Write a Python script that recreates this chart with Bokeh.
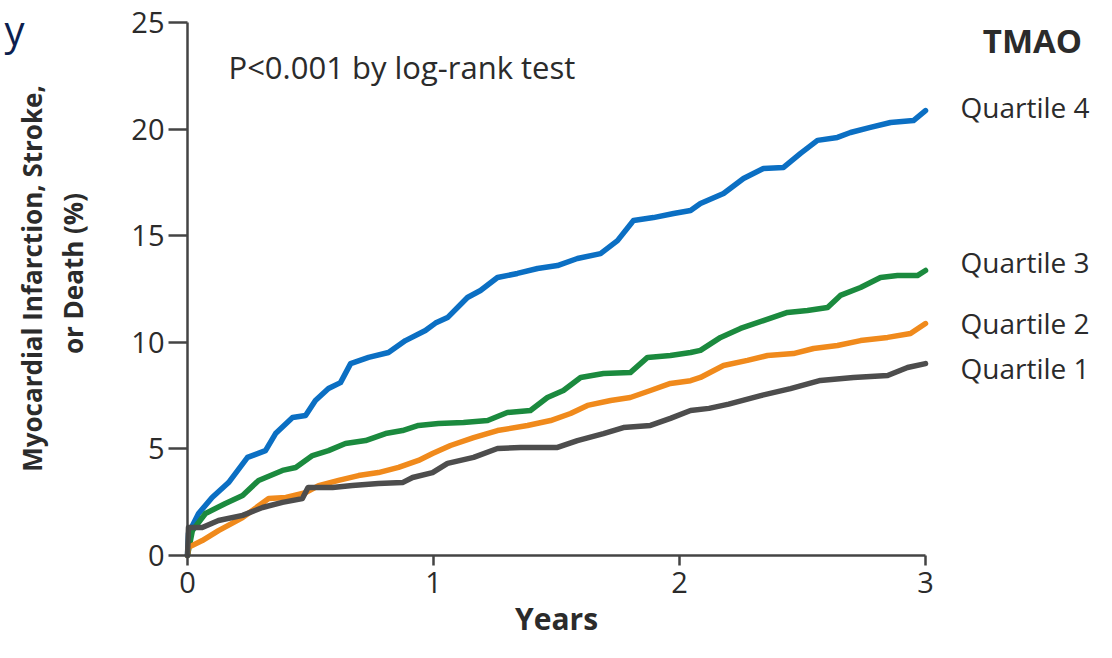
import math
from bokeh.plotting import figure
from bokeh.models import Range1d, Label, FixedTicker
from bokeh.embed import file_html
from bokeh.resources import INLINE

# ---- data ----
q4_x = [0, 0.004, 0.045, 0.10, 0.167, 0.244, 0.317, 0.358, 0.427, 0.48,
        0.52, 0.573, 0.622, 0.663, 0.736, 0.817, 0.886, 0.967, 1.008, 1.057,
        1.138, 1.191, 1.26, 1.341, 1.423, 1.504, 1.585, 1.679, 1.748, 1.813,
        1.894, 1.976, 2.045, 2.085, 2.179, 2.26, 2.341, 2.423, 2.492, 2.561,
        2.642, 2.695, 2.776, 2.858, 2.951, 3.0]
q4_y = [0, 1.03, 1.97, 2.72, 3.42, 4.6, 4.92, 5.72, 6.47, 6.57,
        7.27, 7.83, 8.11, 9.0, 9.29, 9.52, 10.08, 10.55, 10.9, 11.16,
        12.1, 12.43, 13.04, 13.23, 13.46, 13.6, 13.93, 14.16, 14.77, 15.71,
        15.85, 16.04, 16.18, 16.51, 16.98, 17.68, 18.15, 18.2, 18.86, 19.47,
        19.61, 19.84, 20.08, 20.31, 20.4, 20.87]

q3_x = [0, 0.02, 0.073, 0.154, 0.224, 0.289, 0.386, 0.44, 0.508, 0.573,
        0.642, 0.724, 0.805, 0.874, 0.939, 1.02, 1.122, 1.22, 1.30, 1.394,
        1.463, 1.528, 1.598, 1.691, 1.80, 1.87, 1.963, 2.045, 2.085, 2.167,
        2.248, 2.341, 2.439, 2.52, 2.602, 2.654, 2.736, 2.817, 2.886, 2.967, 3.0]
q3_y = [0, 1.17, 1.97, 2.44, 2.81, 3.52, 3.99, 4.13, 4.69, 4.92,
        5.25, 5.39, 5.72, 5.86, 6.1, 6.19, 6.24, 6.33, 6.71, 6.8,
        7.41, 7.74, 8.35, 8.54, 8.58, 9.29, 9.38, 9.52, 9.62, 10.23,
        10.65, 11.02, 11.4, 11.49, 11.63, 12.2, 12.57, 13.04, 13.13, 13.13, 13.37]

q2_x = [0, 0.004, 0.06, 0.126, 0.224, 0.33, 0.40, 0.48, 0.533, 0.614,
        0.695, 0.776, 0.858, 0.939, 0.996, 1.069, 1.163, 1.26, 1.382, 1.476,
        1.557, 1.626, 1.72, 1.80, 1.882, 1.963, 2.045, 2.085, 2.179, 2.276,
        2.358, 2.463, 2.545, 2.642, 2.736, 2.846, 2.939, 3.0]
q2_y = [0, 0.38, 0.70, 1.17, 1.78, 2.67, 2.72, 2.95, 3.28, 3.52,
        3.75, 3.89, 4.13, 4.46, 4.78, 5.16, 5.53, 5.86, 6.10, 6.33,
        6.66, 7.04, 7.27, 7.41, 7.74, 8.07, 8.2, 8.35, 8.91, 9.15,
        9.38, 9.47, 9.71, 9.85, 10.08, 10.23, 10.41, 10.88]

q1_x = [0, 0.004, 0.06, 0.126, 0.224, 0.305, 0.386, 0.467, 0.49, 0.59,
        0.67, 0.776, 0.874, 0.915, 0.996, 1.057, 1.163, 1.26, 1.354, 1.504,
        1.585, 1.691, 1.772, 1.882, 1.963, 2.045, 2.12, 2.2, 2.33, 2.451,
        2.573, 2.707, 2.846, 2.927, 3.0]
q1_y = [0, 1.31, 1.31, 1.64, 1.88, 2.25, 2.49, 2.67, 3.19, 3.19,
        3.28, 3.38, 3.42, 3.66, 3.89, 4.32, 4.6, 5.02, 5.07, 5.07,
        5.39, 5.72, 6.0, 6.1, 6.43, 6.8, 6.9, 7.1, 7.5, 7.83,
        8.21, 8.35, 8.44, 8.82, 9.0]

series_names = ["Quartile 4", "Quartile 3", "Quartile 2", "Quartile 1"]
series_colors = ["#0b6fc3", "#1b8a3e", "#f08a1c", "#4d4d4d"]
x_ticks = [0, 1, 2, 3]
y_ticks = [0, 5, 10, 15, 20, 25]

FONT = "Open Sans"
TXT = "#2b2b2b"
AX = "#444444"

# pixel geometry of the plotting area inside the figure
W, H = 1096, 642
X0PX, X3PX = 187, 925
Y0PX, Y25PX = 555, 22
sx = (X3PX - X0PX) / 3.0
sy = (Y0PX - Y25PX) / 25.0

p = figure(width=W, height=H, output_backend="svg", toolbar_location=None,
           x_range=Range1d(-X0PX / sx, (W - X0PX) / sx),
           y_range=Range1d(-(H - Y0PX) / sy, Y0PX / sy),
           min_border=0, min_border_left=0, min_border_right=0,
           min_border_top=0, min_border_bottom=0)
p.outline_line_color = None
p.grid.visible = False
p.background_fill_color = "white"
p.border_fill_color = "white"

for xs, ys, c in zip([q4_x, q3_x, q2_x, q1_x], [q4_y, q3_y, q2_y, q1_y], series_colors):
    p.line(xs, ys, line_color=c, line_width=5.5, line_join="round", line_cap="round")

for ax in (p.xaxis[0], p.yaxis[0]):
    ax.fixed_location = 0
    ax.axis_line_color = AX
    ax.axis_line_width = 2.5
    ax.major_tick_line_color = AX
    ax.major_tick_line_width = 2.5
    ax.major_tick_in = 0
    ax.minor_tick_line_color = None
    ax.major_label_text_font = FONT
    ax.major_label_text_font_size = "29px"
    ax.major_label_text_color = TXT

p.xaxis[0].bounds = (0, 3)
p.yaxis[0].bounds = (0, 25)
p.xaxis[0].ticker = FixedTicker(ticks=x_ticks)
p.yaxis[0].ticker = FixedTicker(ticks=y_ticks)
p.xaxis[0].major_tick_out = 10
p.xaxis[0].major_label_standoff = 6
p.yaxis[0].major_tick_out = 19
p.yaxis[0].major_label_standoff = 4

def px2x(px):
    return (px - X0PX) / sx

def py2y(py):
    return (Y0PX - py) / sy

def lab(px, py, text, size="29px", bold=False, align="left", color=TXT, angle=0, baseline="middle"):
    p.add_layout(Label(x=px2x(px), y=py2y(py), text=text, text_font=FONT, text_font_size=size,
                       text_font_style="bold" if bold else "normal", text_color=color,
                       text_align=align, text_baseline=baseline, angle=angle))

lab(228, 66, "P<0.001 by log-rank test", size="31px")
lab(1032, 40, "TMAO", size="33px", bold=True, align="center")
for name, py in zip(series_names, [106, 261, 322, 367]):
    lab(960, py, name, size="28px")
lab(556, 618, "Years", size="30px", bold=True, align="center")
lab(31, 278, "Myocardial Infarction, Stroke,", size="26px", bold=True, align="center", angle=math.pi / 2)
lab(72, 273, "or Death (%)", size="26px", bold=True, align="center", angle=math.pi / 2)
lab(24, 1, "y", size="40px", align="right", color="#0d1f4f", baseline="top")

open("out.html", "w").write(file_html(p, INLINE))
